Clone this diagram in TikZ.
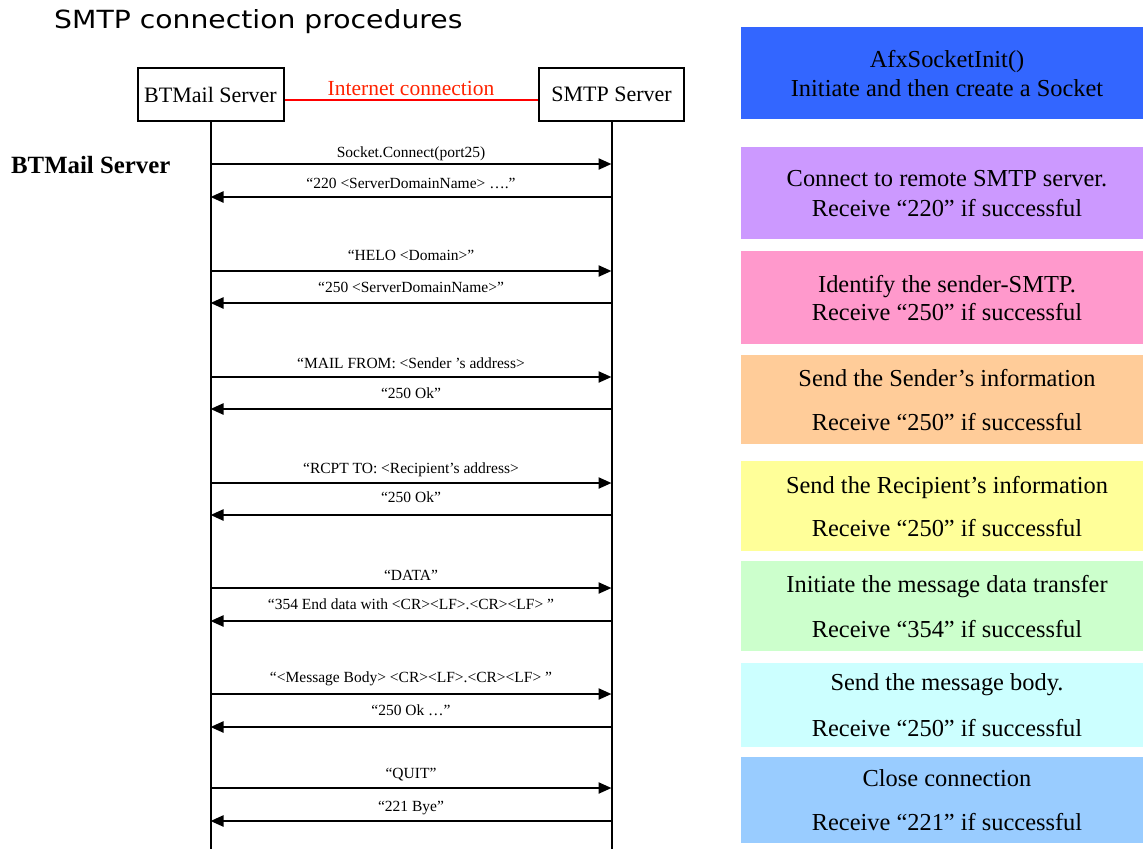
\documentclass[tikz,border=0pt]{standalone}
\usepackage{fontspec}
\usepackage{graphicx}
\setmainfont{Liberation Serif}
\newfontfamily\titlefont{DejaVu Sans}
\usetikzlibrary{arrows.meta}
\definecolor{cBlue}{HTML}{3366FF}
\definecolor{cPurple}{HTML}{CC99FF}
\definecolor{cPink}{HTML}{FF99CC}
\definecolor{cOrange}{HTML}{FFCC99}
\definecolor{cYellow}{HTML}{FFFF99}
\definecolor{cGreen}{HTML}{CCFFCC}
\definecolor{cCyan}{HTML}{CCFFFF}
\definecolor{cLightBlue}{HTML}{99CCFF}
\definecolor{icRed}{HTML}{FF2200}
\tikzset{
  lifebox/.style={draw, line width=2pt, minimum height=53pt, inner sep=0pt,
    font=\fontsize{22}{26}\selectfont},
  life/.style={line width=2pt},
  msg/.style={line width=2.3pt, -{Triangle[length=13pt,width=11pt]}},
  msglabel/.style={font=\fontsize{15.5}{18}\selectfont, inner sep=0pt, anchor=base},
  stepbox/.style={minimum width=402pt, inner sep=0pt, anchor=north west, draw=none},
  steptext/.style={font=\fontsize{24.4}{28}\selectfont, inner sep=0pt, anchor=base},
}
\begin{document}
\begin{tikzpicture}[x=1pt,y=-1pt]
\useasboundingbox (0,0) rectangle (1143,849);
% title
\node[anchor=base west, inner sep=0pt, font=\titlefont\fontsize{25}{30}\selectfont] (title) at (54,28.5)
  {\scalebox{1.13}[1]{SMTP connection procedures}};
% side label
\node[anchor=base west, inner sep=0pt, font=\bfseries\fontsize{24.8}{28}\selectfont] (side) at (11,173) {BTMail Server};
% lifeline boxes
\node[lifebox, minimum width=146pt] (bt) at (210.5,94.5) {BTMail Server};
\node[lifebox, minimum width=145pt] (smtp) at (611.5,94.5) {SMTP Server};
\coordinate (btend) at (bt.south |- 0,849);
\coordinate (smtpend) at (smtp.south |- 0,849);
\draw[life] (bt.south) -- (btend);
\draw[life] (smtp.south) -- (smtpend);
% internet connection
\coordinate (ica) at (bt.east |- 0,100);
\coordinate (icb) at (smtp.west |- 0,100);
\draw[red, line width=2pt] (ica) -- (icb);
\node[anchor=base, inner sep=0pt, text=icRed, font=\fontsize{21.5}{24}\selectfont] (iclabel) at (411,95.5) {Internet connection};
% messages
\foreach \i/\ly/\ay/\txt in {
  1/152/164/{Socket.Connect(port25)},
  2/183/197/{“220 <ServerDomainName> ….”},
  3/255/271/{“HELO <Domain>”},
  4/287/303/{“250 <ServerDomainName>”},
  5/363/377/{“MAIL FROM: <Sender ’s address>},
  6/393/409/{“250 Ok”},
  7/468/483/{“RCPT TO: <Recipient’s address>},
  8/497/515/{“250 Ok”},
  9/575/588/{“DATA”},
  10/604/621/{“354 End data with <CR><LF>.<CR><LF> ”},
  11/677/694/{“<Message Body> <CR><LF>.<CR><LF> ”},
  12/710/727/{“250 Ok …”},
  13/773/788/{“QUIT”},
  14/806/821/{“221 Bye”}} {
  \coordinate (l\i) at (bt.south |- 0,\ay);
  \coordinate (r\i) at (smtp.south |- 0,\ay);
  \node[msglabel] (m\i) at (411,\ly+5) {\txt};
  \ifodd\i
    \draw[msg] (l\i) -- (r\i);
  \else
    \draw[msg] (r\i) -- (l\i);
  \fi
}
% step boxes
\foreach \j/\top/\bot/\col/\ya/\yb/\ta/\tb in {
  1/27/119/cBlue/60/89/{AfxSocketInit()}/{Initiate and then create a Socket},
  2/147/239/cPurple/179/209/{Connect to remote SMTP server.}/{Receive “220” if successful},
  3/251/344/cPink/285/313/{Identify the sender-SMTP.}/{Receive “250” if successful},
  4/355/444/cOrange/379/423/{Send the Sender’s information}/{Receive “250” if successful},
  5/461/551/cYellow/486/529/{Send the Recipient’s information}/{Receive “250” if successful},
  6/561/651/cGreen/585/630/{Initiate the message data transfer}/{Receive “354” if successful},
  7/663/747/cCyan/683/729/{Send the message body.}/{Receive “250” if successful},
  8/757/843/cLightBlue/779/823/{Close connection}/{Receive “221” if successful}} {
  \node[stepbox, fill=\col, minimum height=\bot-\top] (s\j) at (741,\top) {};
  \node[steptext] (s\j a) at (947,\ya+7.5) {\ta};
  \node[steptext] (s\j b) at (947,\yb+7.5) {\tb};
}
\end{tikzpicture}
\end{document}
